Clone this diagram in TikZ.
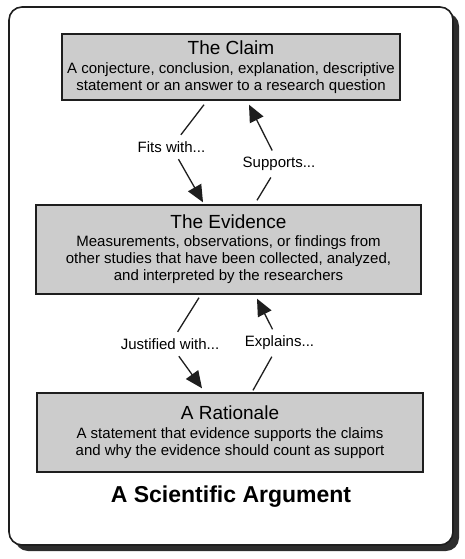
\documentclass[tikz,border=0pt]{standalone}
\usepackage{fontspec}
\setmainfont{Liberation Sans}
\usetikzlibrary{arrows.meta,positioning}
\definecolor{argfill}{RGB}{204,204,204}
\definecolor{argline}{RGB}{30,30,30}
\definecolor{argshadow}{RGB}{45,45,45}

\begin{document}
\begin{tikzpicture}[x=1pt,y=-1pt,
    every node/.style={font=\fontsize{15}{17}\selectfont},
    box/.style={draw=argline,fill=argfill,line width=1.4pt,align=center,inner sep=0pt},
    lbl/.style={inner xsep=3pt,inner ysep=6.5pt},
    link/.style={argline,line width=1.3pt},
    arr/.style={link,-{Triangle[length=17pt,width=15pt]}}]
  \useasboundingbox (0,0) rectangle (464,559);
  % Frame and shadow
  \fill[argshadow,rounded corners=13pt] (15,13) rectangle (459,551);
  \draw[argline,fill=white,line width=1.6pt,rounded corners=13pt] (9,7) rectangle (453,545);
  % Boxes
  \node[box,minimum width=338pt,minimum height=66pt] (claim) at (231,67)
    {{\fontsize{19}{21}\selectfont The Claim}\\[2pt]
     A conjecture, conclusion, explanation, descriptive\\
     statement or an answer to a research question};
  \node[box,minimum width=385pt,minimum height=89pt] (evidence) at (228.5,249.5)
    {{\fontsize{19}{21}\selectfont The Evidence}\\[1pt]
     Measurements, observations, or findings from\\
     other studies that have been collected, analyzed,\\
     and interpreted by the researchers};
  \node[box,minimum width=386pt,minimum height=79pt] (rationale) at (230,432.5)
    {{\fontsize{19}{21}\selectfont A Rationale}\\[2pt]
     A statement that evidence supports the claims\\
     and why the evidence should count as support};
  \node[font=\fontsize{23}{25}\selectfont\bfseries] (title) at (231,497) {A Scientific Argument};
  % Labels
  \node[lbl] (fits) at (171.5,147) {Fits with...};
  \node[lbl] (supports) at (279,164) {Supports...};
  \node[lbl] (justified) at (170,344) {Justified with...};
  \node[lbl] (explains) at (279.5,343) {Explains...};
  % End points
  \coordinate (fitsA) at ([xshift=-27pt,yshift=-4pt]claim.south);
  \coordinate (fitsB) at ([xshift=-25.5pt,yshift=2pt]evidence.north);
  \coordinate (supA) at ([xshift=28.5pt,yshift=4pt]evidence.north);
  \coordinate (supB) at ([xshift=18pt,yshift=-4pt]claim.south);
  \coordinate (justA) at ([xshift=-29.5pt,yshift=-3pt]evidence.south);
  \coordinate (justB) at ([xshift=-28pt,yshift=4pt]rationale.north);
  \coordinate (explA) at ([xshift=23pt,yshift=2pt]rationale.north);
  \coordinate (explB) at ([xshift=28.5pt,yshift=-4pt]evidence.south);
  % Connectors
  \draw[link] (fitsA) -- (fits);
  \draw[arr] (fits) -- (fitsB);
  \draw[link] (supA) -- (supports);
  \draw[arr] (supports) -- (supB);
  \draw[link] (justA) -- (justified);
  \draw[arr] (justified) -- (justB);
  \draw[link] (explA) -- (explains);
  \draw[arr] (explains) -- (explB);
\end{tikzpicture}
\end{document}
